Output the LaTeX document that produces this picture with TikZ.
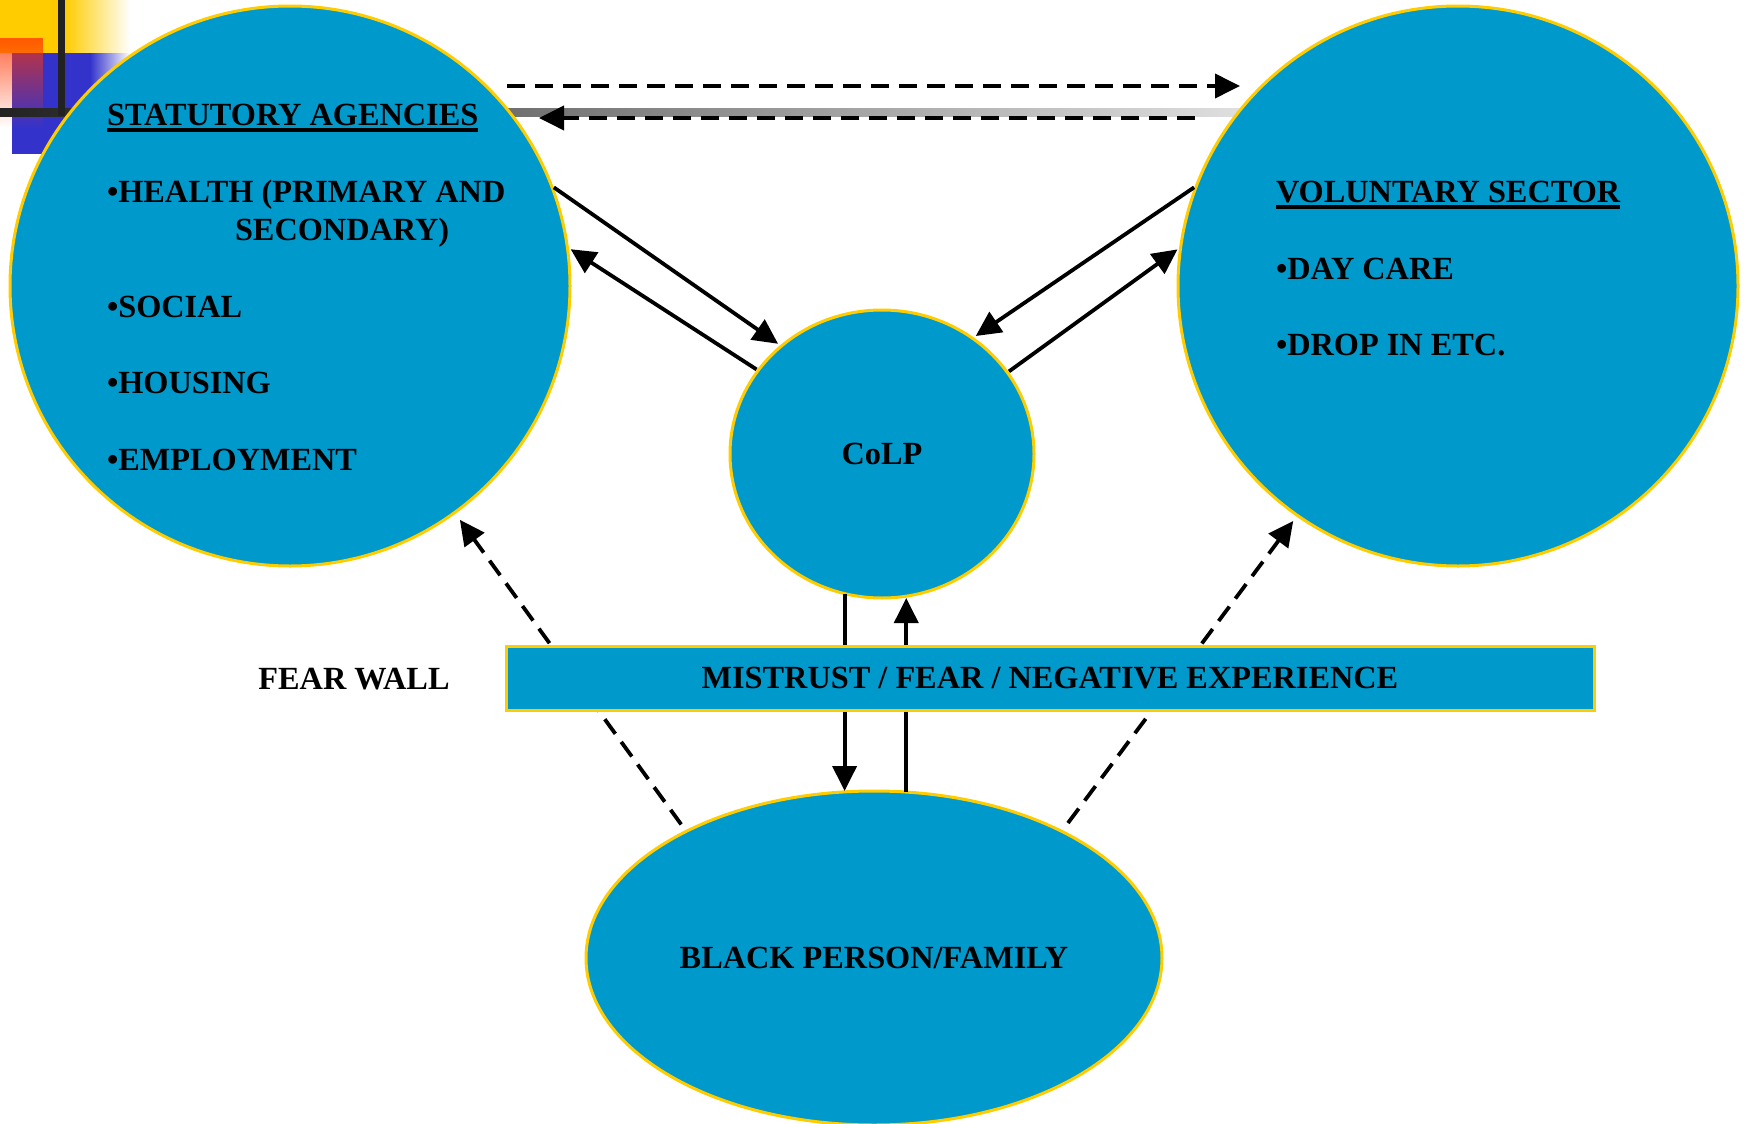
\documentclass[tikz,border=0pt]{standalone}
\usepackage{fontspec}
\setmainfont{Liberation Serif}
\usetikzlibrary{arrows.meta,shapes.geometric,fadings}
\definecolor{cfill}{RGB}{0,153,204}
\definecolor{cedge}{RGB}{255,204,0}
\definecolor{dyel}{RGB}{255,204,0}
\definecolor{dblue}{RGB}{51,51,204}
\definecolor{dred}{RGB}{255,51,0}
\definecolor{dbar}{RGB}{34,34,34}
\newcommand{\myul}[1]{\setbox0=\hbox{#1}\rlap{\rule[-3.5pt]{\wd0}{2pt}}\box0}
\begin{document}
\begin{tikzpicture}[x=0.5pt,y=-0.5pt,
  blob/.style={ellipse, draw=cedge, line width=1.5pt, fill=cfill, inner sep=0pt, outer sep=0pt, font=\fontsize{16.15}{19}\selectfont\bfseries},
  txt/.style={font=\fontsize{16.15}{19}\selectfont\bfseries, inner sep=0pt, outer sep=0pt},
  con/.style={line width=1.9pt, -{Triangle[length=12.5pt,width=12pt]}},
  dcon/.style={con, dash pattern=on 9pt off 5pt},
]
\useasboundingbox (0,0) rectangle (1747,1124);
% slide template decoration
\fill[dyel] (0,0) rectangle (65,53);
\shade[left color=dyel, right color=white] (65,0) rectangle (130,53);
\fill[dblue] (12,53) rectangle (90,154);
\shade[left color=dblue, right color=white] (90,53) rectangle (130,154);
\fill[dred, opacity=0.75, path fading=south] (0,38) rectangle (43,128);
\shade[left color=dbar, right color=white] (0,108) rectangle (1450,116);
\fill[dbar] (58,0) rectangle (65,116);
% main shapes
\node[blob, minimum width=280pt, minimum height=280pt] (sa) at (290,286) {};
\node[blob, minimum width=280pt, minimum height=280pt] (vs) at (1458,286) {};
\node[blob, minimum width=152pt, minimum height=144pt] (colp) at (882,454) {CoLP};
\node[blob, minimum width=288pt, minimum height=167pt] (bf) at (874,958) {BLACK PERSON/FAMILY};
% texts
\node[txt, anchor=base west] (saT) at (107,125) {\myul{STATUTORY AGENCIES}};
\node[txt, anchor=base west] (sa1) at (107,202) {•HEALTH (PRIMARY AND};
\node[txt, anchor=base west] (sa1b) at (235,240) {SECONDARY)};
\node[txt, anchor=base west] (sa2) at (107,317) {•SOCIAL};
\node[txt, anchor=base west] (sa3) at (107,393) {•HOUSING};
\node[txt, anchor=base west] (sa4) at (107,470) {•EMPLOYMENT};
\node[txt, anchor=base west] (vsT) at (1276,202) {\myul{VOLUNTARY SECTOR}};
\node[txt, anchor=base west] (vs1) at (1276,279) {•DAY CARE};
\node[txt, anchor=base west] (vs2) at (1276,355) {•DROP IN ETC.};
\node[txt] (fw) at (354,679) {FEAR WALL};
% connectors
\coordinate (t1a) at (507,86);
\coordinate (t1b) at (1240,86);
\coordinate (t2a) at (1195,118);
\coordinate (t2b) at (539,118);
\draw[dcon] (t1a) -- (t1b);
\draw[dcon] (t2a) -- (t2b);
\draw[con, shorten <=1.5pt, shorten >=2pt] (sa.21) -- (colp.133);
\draw[con, shorten <=1pt, shorten >=2pt] (colp.146) -- (sa.8);
\draw[con, shorten <=1.5pt, shorten >=2pt] (vs.159) -- (colp.52);
\draw[con, shorten <=1pt, shorten >=2pt] (colp.33) -- (vs.172);
\draw[dcon, shorten <=4.3pt, shorten >=4.5pt] (bf.146) -- (sa.-54);
\draw[dcon, shorten <=5.2pt, shorten >=3.5pt] (bf.34.5) -- (vs.-125.8);
\draw[con] (colp.-105) -- (colp.-105 |- bf.north);
\draw[con] (bf.79) -- (bf.79 |- colp.south);
% fear wall
\node[draw=cedge, line width=1.5pt, fill=cfill, minimum width=544pt, minimum height=32pt, inner sep=0pt, txt] (wall) at (1050,678) {MISTRUST / FEAR / NEGATIVE EXPERIENCE};
\end{tikzpicture}
\end{document}
